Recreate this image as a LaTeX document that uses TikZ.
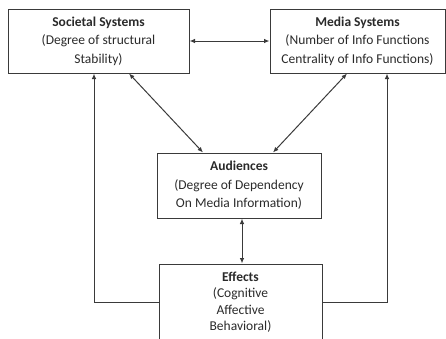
\documentclass[tikz,border=0pt]{standalone}
\usepackage{fontspec}
\setmainfont{Carlito}
\usetikzlibrary{arrows.meta, calc}
\definecolor{linea}{HTML}{3A3A3A}
\definecolor{testo}{HTML}{2A2A2A}
\tikzset{
  scatola/.style={draw=linea, line width=1pt, align=center, text=testo,
    inner sep=0pt, font=\fontsize{13.5}{18.5}\selectfont},
  freccia/.style={draw=linea, line width=1pt, -{Latex[length=5.5pt,width=4.5pt]}},
  doppia/.style={draw=linea, line width=1pt, {Latex[length=5.5pt,width=4.5pt]}-{Latex[length=5.5pt,width=4.5pt]}}
}

\begin{document}
\begin{tikzpicture}[x=1pt, y=-1pt]
    % Cornice
    \useasboundingbox (0,0) rectangle (446,338);
    % Scatole
    \node[scatola, minimum width=181pt, minimum height=64pt] (soc) at (98.5,41)
      {\textbf{Societal Systems}\\(Degree of structural\\Stability)};
    \node[scatola, minimum width=175pt, minimum height=64pt] (med) at (357.5,41)
      {\textbf{Media Systems}\\(Number of Info Functions\\Centrality of Info Functions)};
    \node[scatola, minimum width=164pt, minimum height=65pt] (aud) at (239,185.5)
      {\textbf{Audiences}\\(Degree of Dependency\\On Media Information)};
    \node[scatola, minimum width=163pt, minimum height=76pt, font=\fontsize{13.5}{16.5}\selectfont] (eff) at (240.5,302)
      {\textbf{Effects}\\(Cognitive\\Affective\\Behavioral)};
    % Frecce
    \draw[doppia] (soc.east) -- (med.west);
    \draw[doppia] ([xshift=30.5pt]soc.south) -- ([xshift=-36pt]aud.north);
    \draw[doppia] ([xshift=-10.5pt]med.south) -- ([xshift=34pt]aud.north);
    \draw[doppia] ([xshift=3pt]aud.south) -- ([xshift=3pt]aud.south |- eff.north);
    \draw[freccia] (eff.west) -| ([xshift=-4.5pt]soc.south);
    \draw[freccia] (eff.east) -| ([xshift=29.5pt]med.south);
\end{tikzpicture}
\end{document}
